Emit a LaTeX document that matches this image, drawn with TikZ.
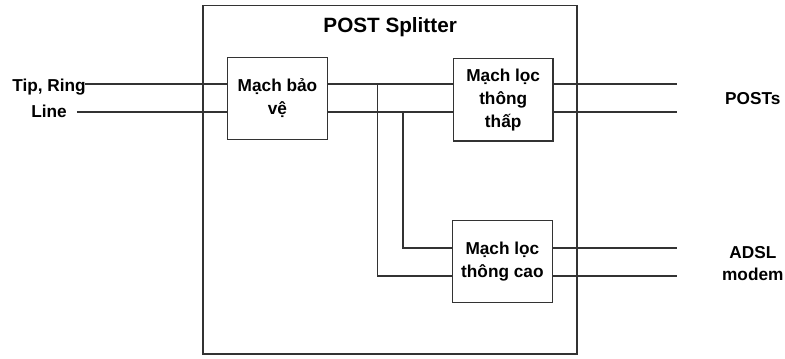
\documentclass[tikz,border=0pt]{standalone}
\usepackage{fontspec}
\setmainfont{Liberation Sans}
\begin{document}
\begin{tikzpicture}[line width=0.9pt, draw=black!80,
		khoi/.style={draw, line width=0.9pt, minimum width=2.54cm, minimum height=2.1cm, inner sep=0pt, align=center, font=\bfseries\fontsize{12.5}{16.7}\selectfont},
		nhan/.style={align=center, inner sep=0pt, font=\bfseries\fontsize{12.5}{15.5}\selectfont}]
			\useasboundingbox (0,0) rectangle (20,9.121);
			\node[draw, line width=0.9pt, minimum width=9.53cm, minimum height=8.89cm] (splitter) at (9.935,4.545) {};
			\node[font=\bfseries\fontsize{15}{18}\selectfont] (tieude) at (9.94,8.43) {POST Splitter};
			\node[khoi] (baove) at (7.07,6.61) {Mạch bảo\\vệ};
			\node[khoi] (thap) at (12.82,6.58) {Mạch lọc\\thông\\thấp};
			\node[khoi] (cao) at (12.80,2.46) {Mạch lọc\\thông cao};
			\node[nhan, font=\bfseries\fontsize{12.5}{19}\selectfont] (line) at (1.25,6.62) {Tip, Ring\\Line};
			\node[nhan] (posts) at (19.18,6.60) {POSTs};
			\node[nhan] (adsl) at (19.18,2.41) {ADSL\\modem};
			\coordinate (tip) at (2.17,6.98);
			\coordinate (ring) at (1.96,6.27);
			\coordinate (post1) at (17.25,6.98);
			\coordinate (post2) at (17.25,6.27);
			\coordinate (nhanh1) at (9.61,2.09);
			\coordinate (nhanh2) at (10.27,2.80);
			\coordinate (adsl1) at (17.25,2.80);
			\coordinate (adsl2) at (17.25,2.09);
			\foreach \d in {tip,ring}{
				\draw (\d) -- (\d -| baove.west);
				\draw (baove.east |- \d) -- (thap.west |- \d);}
			\draw (thap.east |- post1) -- (post1);
			\draw (thap.east |- post2) -- (post2);
			\draw (nhanh1 |- tip) -- (nhanh1) -- (nhanh1 -| cao.west);
			\draw (nhanh2 |- ring) -- (nhanh2) -- (nhanh2 -| cao.west);
			\draw (cao.east |- adsl1) -- (adsl1);
			\draw (cao.east |- adsl2) -- (adsl2);
		\end{tikzpicture}
\end{document}
